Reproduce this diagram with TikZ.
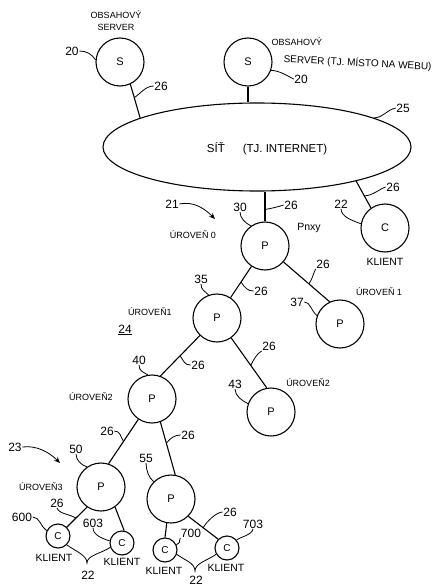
\documentclass[tikz,border=0pt]{standalone}
\usepackage{fontspec}
\setmainfont{Liberation Sans}
\usetikzlibrary{shapes.geometric,arrows.meta}
\begin{document}
\begin{tikzpicture}[x=1pt,y=-1pt,
  conn/.style={line width=1.1pt},
  lead/.style={line width=0.8pt},
  big/.style={circle,draw,line width=1.1pt,minimum size=48pt,inner sep=0pt,font=\fontsize{11}{13}\selectfont},
  small/.style={circle,draw,line width=1.1pt,minimum size=24pt,inner sep=0pt,font=\fontsize{10}{12}\selectfont},
  num/.style={inner sep=0.5pt,font=\fontsize{12}{14}\selectfont},
  hand/.style={inner sep=0.5pt,font=\fontsize{9}{12}\selectfont},
  kl/.style={inner sep=0.5pt,font=\fontsize{10.5}{12}\selectfont},
  arr/.style={line width=0.8pt,-{Stealth[length=6pt,width=5pt]}}
]
\useasboundingbox (0,0) rectangle (438,588);

% main nodes
\node[big] (s1) at (120,62) {S};
\node[big] (s2) at (248,62) {S};
\node[ellipse,draw,line width=1.1pt,minimum width=308pt,minimum height=88pt] (net) at (257,147) {};
\node[inner sep=0pt,font=\fontsize{11.5}{13}\selectfont] (nettxt) at (267,149) {SÍŤ\hspace{18pt}(TJ. INTERNET)};
\node[big] (c1) at (385,228) {C};
\node[big] (p0) at (265,246) {P};
\node[big] (p1) at (217,318) {P};
\node[big] (p2) at (340,324) {P};
\node[big] (p3) at (152,399) {P};
\node[big] (p4) at (271,412) {P};
\node[big] (p5) at (101,487) {P};
\node[big] (p6) at (171,499) {P};
\node[small] (c600) at (58,536) {C};
\node[small] (c603) at (122,543) {C};
\node[small] (c700) at (165,550) {C};
\node[small] (c703) at (227,548) {C};

% connectors
\draw[conn] (s1.-65) -- coordinate[pos=0.4] (ls1) (net.166);
\draw[conn] (s2.south) -- (s2.south |- net.north);
\draw[conn] (p0.north |- net.south) -- coordinate[pos=0.6] (lp0) (p0.north);
\draw[conn] (net.-19) -- coordinate[pos=0.55] (lc1) (c1.125);
\draw[conn] (p0) -- coordinate[pos=0.5] (l01) (p1);
\draw[conn] (p0) -- coordinate[pos=0.55] (l02) (p2.115);
\draw[conn] (p1) -- coordinate[pos=0.5] (l13) (p3.70);
\draw[conn] (p1) -- coordinate[pos=0.55] (l14) (p4.100);
\draw[conn] (p3) -- coordinate[pos=0.5] (l35) (p5.72);
\draw[conn] (p3.-70) -- coordinate[pos=0.4] (l36) (p6.80);
\draw[conn] (p5.-125) -- coordinate[pos=0.55] (l5c) (c600);
\draw[conn] (p5.-55) -- (c603.80);
\draw[conn] (p6.-100) -- (c700.north);
\draw[conn] (p6.-45) -- coordinate[pos=0.5] (l6c) (c703.135);

% texts
\node[hand,align=center] (t1) at (116,21) {OBSAHOVÝ\\SERVER};
\node[hand,anchor=west] (t2a) at (271,42) {OBSAHOVÝ};
\node[inner sep=0.5pt,anchor=west,rotate=-3,font=\fontsize{10}{12}\selectfont] (t2b) at (283,59) {SERVER (TJ. MÍSTO NA WEBU)};
\node[hand] (u0) at (193,235) {ÚROVEŇ 0};
\node[kl] (pnxy) at (309,228) {Pnxy};
\node[hand] (u1a) at (150,312) {ÚROVEŇ1};
\node[num] (n24) at (125,330) {\underline{24}};
\node[hand] (u1b) at (379,292) {ÚROVEŇ 1};
\node[hand] (u2a) at (91,397) {ÚROVEŇ2};
\node[hand] (u2b) at (308,383) {ÚROVEŇ2};
\node[hand] (u3) at (41,487) {ÚROVEŇ3};
\node[kl] (k1) at (385,262) {KLIENT};
\node[kl] (k600) at (54,558) {KLIENT};
\node[kl] (k603) at (122,562) {KLIENT};
\node[kl] (k700) at (164,571) {KLIENT};
\node[kl] (k703) at (226,568) {KLIENT};

% numbers
\node[num] (n20a) at (72,51) {20};
\node[num] (n26a) at (161,86) {26};
\node[num] (n20b) at (301,79) {20};
\node[num] (n25) at (403,108) {25};
\node[num] (n26b) at (291,205) {26};
\node[num] (n30) at (240,207) {30};
\node[num] (n21) at (172,204) {21};
\node[num] (n26c) at (393,187) {26};
\node[num] (n22a) at (341,204) {22};
\node[num] (n26d) at (261,291) {26};
\node[num] (n26e) at (323,264) {26};
\node[num] (n35) at (201,279) {35};
\node[num] (n37) at (297,302) {37};
\node[num] (n26f) at (198,365) {26};
\node[num] (n40) at (139,360) {40};
\node[num] (n26g) at (269,346) {26};
\node[num] (n43) at (235,384) {43};
\node[num] (n26h) at (107,431) {26};
\node[num] (n50) at (76,449) {50};
\node[num] (n23) at (15,447) {23};
\node[num] (n26i) at (188,435) {26};
\node[num] (n55) at (146,458) {55};
\node[num] (n26j) at (57,503) {26};
\node[num] (n600) at (22,517) {600};
\node[num] (n603) at (93,523) {603};
\node[num] (n22b) at (88,575) {22};
\node[num] (n26k) at (230,512) {26};
\node[num] (n700) at (191,533) {700};
\node[num] (n703) at (253,524) {703};
\node[num] (n22c) at (196,580) {22};

\coordinate (a21) at (215,219);
\coordinate (a23) at (60,463);
\coordinate (b1) at (87,563);
\coordinate (b2) at (195,571);

% leaders
\draw[lead] (n20a.east) .. controls +(7,0) and +(-4,-6) .. (s1.175);
\draw[lead] (n26a.west) .. controls +(-8,0) and +(6,-4) .. (ls1);
\draw[lead] (s2.-20) .. controls +(8,0) and +(-6,-3) .. (n20b.west);
\draw[lead] (net.14) .. controls +(9,0) and +(-9,2) .. (n25.west);
\draw[lead] (lp0) .. controls +(6,-1) and +(-6,2) .. (n26b.west);
\draw[lead] (n30.south) .. controls +(0,6) and +(-6,-3) .. (p0.125);
\draw[arr] (n21.east) .. controls +(15,-3) and +(-10,-10) .. (a21);
\draw[lead] (lc1) .. controls +(8,0) and +(-6,2) .. (n26c.west);
\draw[lead] (n22a.south) .. controls +(0,8) and +(-8,-3) .. (c1.170);
\draw[lead] (l01) .. controls +(4,6) and +(-6,0) .. (n26d.west);
\draw[lead] (l02) .. controls +(4,-6) and +(-3,6) .. (n26e.south west);
\draw[lead] (n35.south) .. controls +(0,6) and +(-4,-4) .. (p1.110);
\draw[lead] (n37.east) .. controls +(6,0) and +(-6,-5) .. (p2.160);
\draw[lead] (l13) .. controls +(4,6) and +(-6,0) .. (n26f.west);
\draw[lead] (n40.south) .. controls +(0,6) and +(-5,-3) .. (p3.100);
\draw[lead] (l14) .. controls +(3,-6) and +(-5,3) .. (n26g.south west);
\draw[lead] (n43.south) .. controls +(0,7) and +(-6,-3) .. (p4.160);
\draw[lead] (n26h.east) .. controls +(6,0) and +(-3,-5) .. (l35);
\draw[lead] (n50.south) .. controls +(0,6) and +(-6,-2) .. (p5.125);
\draw[arr] (n23.east) .. controls +(15,-2) and +(-10,-10) .. (a23);
\draw[lead] (l36) .. controls +(4,-5) and +(-6,0) .. (n26i.west);
\draw[lead] (n55.south) .. controls +(0,7) and +(-5,-4) .. (p6.135);
\draw[lead] (n26j.south) .. controls +(2,6) and +(-6,-4) .. (l5c);
\draw[lead] (n600.east) .. controls +(7,0) and +(-6,-4) .. (c600.155);
\draw[lead] (n603.south) .. controls +(0,7) and +(-7,-2) .. (c603.170);
\draw[lead] (l6c) .. controls +(3,-6) and +(-6,0) .. (n26k.west);
\draw[lead] (n700.south west) .. controls +(-2,5) and +(5,-3) .. (c700.25);
\draw[lead] (n703.south) .. controls +(-1,6) and +(4,-3) .. (c703.40);

% braces
\draw[lead] (c600.-45) .. controls +(8,6) and +(0,-8) .. (b1) .. controls +(0,-8) and +(-8,6) .. (c603.-160);
\draw[lead] (c700.-20) .. controls +(8,6) and +(0,-8) .. (b2) .. controls +(0,-8) and +(-8,6) .. (c703.-150);
\end{tikzpicture}
\end{document}
